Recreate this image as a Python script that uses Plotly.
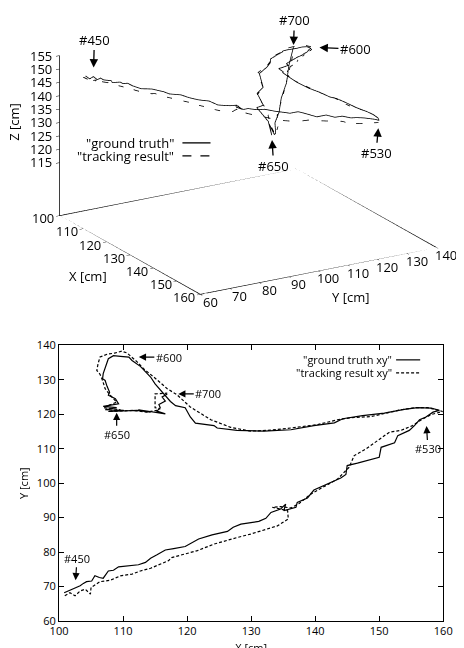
import plotly.graph_objects as go

# ---------------- data ----------------
# ground truth trajectory (frames #450 .. #700)
gt_x = [100.8, 101.7, 102.5, 103.3, 103.8, 104.3, 105.1, 105.6, 106.3, 106.9,
        107.7, 108.5, 109.3, 110.9, 112.4, 113.5, 114.3, 115.3, 116.6, 117.9,
        119.7, 121.8, 123.9, 126.3, 127.2, 128.4, 131.2, 132.3, 133.1, 134.6,
        135.4, 135.1, 137.0, 137.2, 138.8, 139.8, 141.9, 144.0, 144.8, 145.0,
        146.6, 150.0, 150.3, 152.4, 152.9, 154.7, 155.5, 156.3, 157.3, 158.4,
        159.4, 158.1, 156.0, 153.9, 150.8, 147.4, 144.3, 143.0, 139.8, 136.2,
        132.0, 127.8, 124.7, 124.2, 121.3, 120.5, 119.7, 118.2, 117.4, 116.6,
        116.1, 115.0, 114.3, 113.5, 112.7, 111.4, 110.9, 109.6, 108.5, 107.7,
        107.4, 106.9, 106.8, 107.2, 107.5, 107.9, 107.7, 108.8, 109.3, 106.9,
        109.0, 107.2, 110.1, 107.7, 112.2, 114.3, 112.4, 115.8, 116.6, 115.3,
        115.8, 115.6, 116.6, 116.1, 116.9]
gt_y = [68.2, 68.9, 69.5, 70.2, 70.9, 71.4, 71.6, 73.1, 72.6, 72.4,
        74.5, 74.7, 75.7, 76.0, 76.3, 77.0, 78.2, 79.2, 80.6, 81.0,
        81.6, 83.8, 85.0, 86.0, 87.2, 88.1, 88.9, 89.8, 91.5, 92.5,
        93.9, 92.0, 93.0, 94.4, 95.7, 98.0, 99.8, 101.5, 102.5, 105.1,
        105.8, 107.5, 110.4, 111.7, 113.8, 115.3, 116.7, 118.4, 119.2, 120.6,
        121.1, 121.8, 121.9, 121.4, 120.3, 119.6, 118.7, 117.5, 116.7, 115.5,
        115.1, 115.3, 116.0, 116.7, 117.4, 119.2, 121.9, 122.5, 123.7, 125.5,
        126.4, 128.8, 130.8, 132.2, 133.9, 135.6, 136.6, 136.8, 137.0, 136.1,
        134.7, 131.8, 130.3, 129.8, 128.1, 126.4, 125.5, 124.5, 123.0, 122.3,
        121.9, 121.3, 121.1, 120.8, 121.1, 120.6, 121.3, 120.3, 120.1, 120.9,
        121.9, 122.8, 123.8, 125.0, 125.9]
gt_z = [146.0, 145.2, 146.3, 145.4, 146.1, 145.6, 145.8, 145.5, 145.9, 145.6,
        145.7, 145.5, 145.8, 145.6, 145.7, 145.5, 145.6, 145.8, 145.5, 145.7,
        145.6, 145.8, 145.5, 145.7, 145.6, 145.8, 145.5, 145.7, 145.6, 146.3,
        144.8, 145.9, 145.8, 145.9, 146.0, 146.1, 146.0, 146.2, 146.1, 146.2,
        146.3, 146.2, 146.4, 146.3, 146.5, 146.4, 146.6, 146.5, 146.6, 146.5,
        146.5, 146.6, 146.8, 147.0, 147.2, 147.5, 147.8, 148.0, 148.3, 148.5,
        148.6, 148.8, 148.5, 148.3, 148.0, 147.6, 147.4, 147.2, 147.0, 146.9,
        146.8, 146.7, 146.6, 146.5, 146.4, 146.3, 146.2, 146.0, 145.6, 145.3,
        145.0, 144.8, 144.6, 144.5, 144.2, 143.8, 143.2, 142.5, 141.5, 138.0,
        134.0, 131.0, 128.0, 126.0, 123.0, 119.0, 122.0, 120.0, 121.0, 124.0,
        128.0, 133.0, 139.0, 145.0, 152.0]

# tracking result trajectory
tr_x = [100.9, 101.7, 102.5, 103.3, 104.1, 104.9, 105.0, 106.4, 108.0, 109.6,
        111.4, 112.7, 114.3, 115.8, 117.1, 117.6, 120.0, 121.6, 124.2, 126.8,
        127.8, 129.9, 132.0, 134.1, 135.8, 135.7, 133.3, 134.6, 136.2, 137.5,
        139.3, 141.4, 143.5, 145.3, 146.1, 147.9, 150.0, 151.6, 153.4, 155.2,
        156.6, 158.1, 159.9, 159.2, 157.6, 155.5, 153.4, 148.7, 145.6, 143.5,
        140.4, 136.2, 132.5, 129.9, 126.8, 123.7, 120.5, 118.4, 116.9, 114.8,
        113.2, 112.2, 111.1, 110.6, 109.8, 108.8, 107.5, 106.4, 106.1, 105.9,
        106.4, 106.8, 107.2, 108.0, 109.0, 106.9, 109.6, 107.7, 111.6, 113.7,
        115.3, 115.8, 115.0, 115.0, 115.0, 116.9]
tr_y = [67.3, 68.2, 67.3, 68.7, 69.2, 67.8, 69.7, 71.4, 71.8, 73.1,
        73.6, 74.5, 75.3, 76.5, 77.5, 78.4, 79.6, 80.4, 82.3, 83.8,
        84.2, 85.2, 86.4, 87.6, 89.6, 92.0, 93.0, 93.2, 92.8, 94.1,
        96.8, 99.0, 101.2, 104.6, 108.0, 109.9, 112.8, 114.8, 115.3, 116.7,
        118.4, 119.9, 120.8, 121.1, 121.9, 121.9, 121.3, 119.3, 119.0, 118.4,
        117.0, 116.0, 115.3, 115.1, 116.2, 118.4, 122.1, 125.7, 127.4, 130.8,
        133.2, 135.2, 137.1, 137.8, 138.3, 137.8, 137.4, 136.6, 134.7, 132.7,
        131.6, 129.8, 127.4, 125.5, 123.5, 121.9, 121.3, 120.8, 121.1, 120.6,
        121.1, 121.6, 121.9, 124.0, 125.9, 126.1]
tr_z = [145.8, 145.2, 146.2, 145.4, 145.9, 145.3, 145.7, 145.5, 145.6, 145.4,
        145.6, 145.5, 145.4, 145.5, 145.3, 145.4, 145.2, 145.3, 145.1, 145.2,
        145.0, 145.1, 144.9, 145.0, 144.8, 145.6, 145.2, 145.8, 144.6, 144.2,
        143.6, 143.2, 143.0, 142.8, 143.0, 143.2, 143.4, 143.7, 143.9, 144.2,
        144.6, 145.2, 146.0, 146.3, 146.6, 146.8, 147.0, 147.2, 147.5, 147.8,
        148.1, 148.4, 148.6, 148.7, 148.4, 147.9, 147.4, 147.0, 146.8, 146.6,
        146.4, 146.3, 146.1, 146.0, 145.9, 145.7, 145.5, 145.2, 145.0, 144.8,
        144.6, 144.3, 143.9, 143.2, 142.0, 138.5, 134.5, 130.5, 127.0, 122.5,
        119.5, 123.0, 126.5, 134.0, 142.0, 151.0]

# axes
X_RANGE = [100, 160]
Y_RANGE_3D = [60, 140]
Z_RANGE = [95.2, 155]
X_TICKS = [100, 110, 120, 130, 140, 150, 160]
Y_TICKS_3D = [60, 70, 80, 90, 100, 110, 120, 130, 140]
Z_TICKS = [115, 120, 125, 130, 135, 140, 145, 150, 155]
Y_RANGE_2D = [60, 140]
Y_TICKS_2D = [60, 70, 80, 90, 100, 110, 120, 130, 140]

# frame labels: (text, index into gt arrays)
labels_3d = [("#450", 2), ("#530", 50), ("#600", 77), ("#650", 95), ("#700", 104)]
labels_2d = [("#450", 2), ("#530", 48), ("#600", 76), ("#650", 90), ("#700", 104)]

FONT = "Open Sans"
F3 = dict(family=FONT, size=13, color="black")
F2 = dict(family=FONT, size=11, color="black")

W, H = 464, 648
# measured placement of the paper area inside the page
PAPER_X0, PAPER_W = 17.1, 444.6
PAPER_Y1, PAPER_H = 648.0, 631.6


def px(xp):
    return (xp - PAPER_X0) / PAPER_W


def py(yp):
    return (PAPER_Y1 - yp) / PAPER_H


fig = go.Figure()

# ---------------- 3D part ----------------
fig.add_trace(go.Scatter3d(x=gt_x, y=gt_y, z=gt_z, mode="lines",
                           line=dict(color="black", width=1.6), showlegend=False,
                           hoverinfo="skip", scene="scene"))
fig.add_trace(go.Scatter3d(x=tr_x, y=tr_y, z=tr_z, mode="lines",
                           line=dict(color="black", width=1.6, dash="dash"), showlegend=False,
                           hoverinfo="skip", scene="scene"))
# gnuplot-style frame: base rectangle + vertical z axis (built from the axis ranges)
x0, x1 = X_RANGE
y0, y1 = Y_RANGE_3D
z0, z1 = Z_RANGE
fig.add_trace(go.Scatter3d(x=[x0, x1, x1, x0, x0, None, x0, x0],
                           y=[y0, y0, y1, y1, y0, None, y0, y0],
                           z=[z0, z0, z0, z0, z0, None, z0, z1], mode="lines",
                           line=dict(color="black", width=1.5), showlegend=False,
                           hoverinfo="skip", scene="scene"))

# 2D part
fig.add_trace(go.Scatter(x=gt_x, y=gt_y, mode="lines", line=dict(color="black", width=1.2),
                         showlegend=False, hoverinfo="skip"))
fig.add_trace(go.Scatter(x=tr_x, y=tr_y, mode="lines", line=dict(color="black", width=1.2, dash="3px,2px"),
                         showlegend=False, hoverinfo="skip"))


def ax3d(rng, ticks):
    return dict(range=rng, tickvals=ticks, showgrid=False, showbackground=False,
                zeroline=False, showline=False, showticklabels=False,
                ticks="inside", ticklen=4, tickcolor="black", showspikes=False,
                title=dict(text=""))


scene_ann = []
# tick labels of the 3D box, placed in data space at the box edges
for v in X_TICKS:
    scene_ann.append(dict(x=v, y=y0, z=z0, text=str(v), showarrow=False,
                          xshift=-16, yshift=-3, font=F3))
for v in Y_TICKS_3D:
    scene_ann.append(dict(x=x1, y=v, z=z0, text=str(v), showarrow=False,
                          xshift=10, yshift=-8, font=F3))
for v in Z_TICKS:
    scene_ann.append(dict(x=x0, y=y0, z=v, text=str(v), showarrow=False,
                          xanchor="right", xshift=-5, font=F3))

offs3d = {"#450": (1, -37, 9), "#530": (-3, 33, 8), "#600": (47, 2, 11),
          "#650": (2, 31, 5), "#700": (1, -27, 2)}
for txt, i in labels_3d:
    ax_, ay_, so = offs3d[txt]
    scene_ann.append(dict(x=gt_x[i], y=gt_y[i], z=gt_z[i], text=txt, showarrow=True,
                          ax=ax_, ay=ay_, standoff=so, arrowhead=2, arrowsize=1.3,
                          arrowwidth=1.3, arrowcolor="black", font=F3))

ann = []
offs2d = {"#450": (2, -30, 8), "#530": (2, 32, 9), "#600": (40, 0, 10),
          "#650": (0, 27, 5), "#700": (41, 0, 11)}
for txt, i in labels_2d:
    ax_, ay_, so = offs2d[txt]
    ann.append(dict(x=gt_x[i], y=gt_y[i], xref="x", yref="y", text=txt, showarrow=True,
                    ax=ax_, ay=ay_, standoff=so, arrowhead=2, arrowsize=1.2,
                    arrowwidth=1.2, arrowcolor="black", font=F2))

# axis titles for the 3D scene
ann += [
    dict(x=px(88), y=py(276), xref="paper", yref="paper", text="X [cm]", showarrow=False,
         xanchor="center", yanchor="middle", font=F3),
    dict(x=px(350), y=py(297), xref="paper", yref="paper", text="Y [cm]", showarrow=False,
         xanchor="center", yanchor="middle", font=F3),
    dict(x=px(14), y=py(122), xref="paper", yref="paper", text="Z [cm]", showarrow=False,
         xanchor="center", yanchor="middle", textangle=-90, font=F3),
]

# legends (gnuplot style: text right-aligned, sample to its right)
shapes = []
leg3 = [('"ground truth"', "solid", 143), ('"tracking result"', "dash", 156)]
for txt, dash, yy in leg3:
    ann.append(dict(x=px(176), y=py(yy), xref="paper", yref="paper", text=txt,
                    showarrow=False, xanchor="right", yanchor="middle", font=F3))
    shapes.append(dict(type="line", xref="paper", yref="paper", x0=px(182), x1=px(210),
                       y0=py(yy), y1=py(yy), line=dict(color="black", width=1.3, dash=dash)))
leg2 = [('"ground truth xy"', "solid", 359.5), ('"tracking result xy"', "3px,2px", 372.5)]
for txt, dash, yy in leg2:
    ann.append(dict(x=px(393), y=py(yy), xref="paper", yref="paper", text=txt,
                    showarrow=False, xanchor="right", yanchor="middle", font=F2))
    shapes.append(dict(type="line", xref="paper", yref="paper", x0=px(395), x1=px(419),
                       y0=py(yy), y1=py(yy), line=dict(color="black", width=1.2, dash=dash)))

EYE_R = 2.0
EYE_DIR = (0.81, -0.4836, 0.3338)
CAM_C = (-0.0253, -0.0424, -0.154)

fig.update_layout(
    width=W, height=H, margin=dict(l=0, r=0, t=0, b=0),
    paper_bgcolor="white", plot_bgcolor="white", showlegend=False,
    scene=dict(
        domain=dict(x=[0.0, 1.0], y=[0.5, 1.0]),
        xaxis=ax3d(X_RANGE, X_TICKS),
        yaxis=ax3d(Y_RANGE_3D, Y_TICKS_3D),
        zaxis=ax3d(Z_RANGE, Z_TICKS),
        aspectmode="manual", aspectratio=dict(x=1.733, y=1.733, z=1.071),
        camera=dict(eye=dict(x=EYE_R * EYE_DIR[0] + CAM_C[0], y=EYE_R * EYE_DIR[1] + CAM_C[1],
                             z=EYE_R * EYE_DIR[2] + CAM_C[2]),
                    center=dict(x=CAM_C[0], y=CAM_C[1], z=CAM_C[2]),
                    up=dict(x=0, y=0, z=1), projection=dict(type="orthographic")),
        annotations=scene_ann,
    ),
    xaxis=dict(domain=[px(59), px(442)], range=X_RANGE, tickvals=X_TICKS,
               showline=True, mirror="ticks", linecolor="black", linewidth=1.2,
               ticks="inside", ticklen=5, tickcolor="black", showgrid=False, zeroline=False,
               tickfont=F2, title=dict(text="X [cm]", standoff=7, font=F2)),
    yaxis=dict(domain=[py(620), py(345)], range=Y_RANGE_2D, tickvals=Y_TICKS_2D,
               showline=True, mirror="ticks", linecolor="black", linewidth=1.2,
               ticks="inside", ticklen=5, tickcolor="black", showgrid=False, zeroline=False,
               tickfont=F2, title=dict(text="Y [cm]", standoff=5, font=F2)),
    annotations=ann, shapes=shapes,
)

fig.write_html("out.html")
